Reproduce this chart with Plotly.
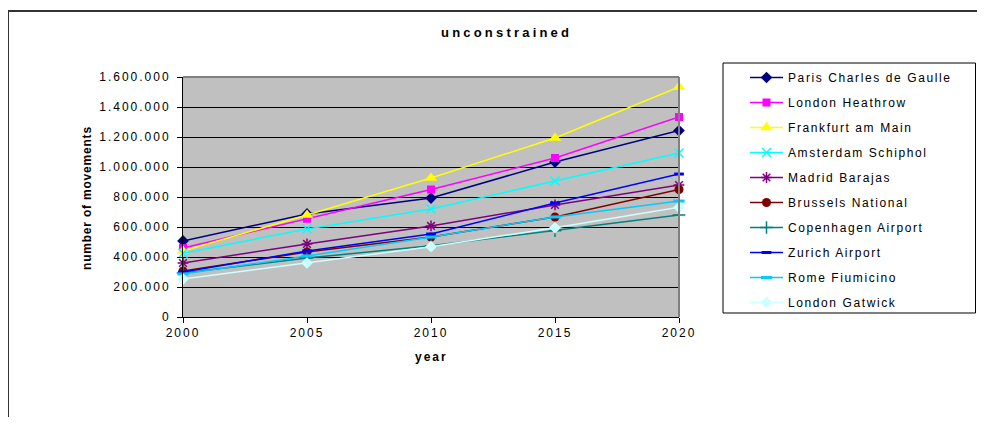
import plotly.graph_objects as go

years = [2000, 2005, 2010, 2015, 2020]
paris = [507000, 687000, 793000, 1033000, 1243000]
heathrow = [460000, 655000, 850000, 1060000, 1333000]
frankfurt = [440000, 680000, 927000, 1193000, 1533000]
amsterdam = [425000, 587000, 720000, 907000, 1093000]
madrid = [360000, 487000, 607000, 747000, 880000]
brussels = [307000, 433000, 533000, 667000, 850000]
copenhagen = [293000, 393000, 475000, 575000, 680000]
zurich = [300000, 440000, 553000, 760000, 953000]
rome = [287000, 407000, 533000, 667000, 773000]
gatwick = [253000, 360000, 469000, 595000, 731000]

series_names = ["Paris Charles de Gaulle", "London Heathrow", "Frankfurt am Main",
                "Amsterdam Schiphol", "Madrid Barajas", "Brussels National",
                "Copenhagen Airport", "Zurich Airport", "Rome Fiumicino", "London Gatwick"]
series_values = [paris, heathrow, frankfurt, amsterdam, madrid, brussels,
                 copenhagen, zurich, rome, gatwick]

y_tickvals = [0, 200000, 400000, 600000, 800000, 1000000, 1200000, 1400000, 1600000]
y_ticklabels = ["0", "200.000", "400.000", "600.000", "800.000", "1.000.000",
                "1.200.000", "1.400.000", "1.600.000"]
x_ticklabels = ["2000", "2005", "2010", "2015", "2020"]

title_text = "unconstrained"
x_title = "year"
y_title = "number of movements"

styles = [
    dict(color="#000080", symbol="diamond", size=9, lw=0),
    dict(color="#FF00FF", symbol="square", size=8, lw=0),
    dict(color="#FFFF00", symbol="triangle-up", size=11, lw=0),
    dict(color="#00FFFF", symbol="x-thin-open", size=9, lw=1.5),
    dict(color="#800080", symbol="asterisk-open", size=9, lw=1.5),
    dict(color="#800000", symbol="circle", size=9, lw=0),
    dict(color="#008080", symbol="cross-thin-open", size=9, lw=1.5),
    dict(color="#0000FF", symbol="line-ew-open", size=7, lw=3),
    dict(color="#00CCFF", symbol="line-ew-open", size=8, lw=3),
    dict(color="#CCFFFF", symbol="diamond", size=9, lw=0),
]

FONT = "Liberation Sans, Arial, sans-serif"


def sp(t, ls):
    return '<span style="letter-spacing:%spx">%s</span>' % (ls, t)


fig = go.Figure()
for i, (name, vals, st) in enumerate(zip(series_names, series_values, styles)):
    fig.add_trace(go.Scatter(
        x=years, y=vals, name=sp(name, 1.6), mode="lines+markers",
        legendgroup="g%d" % i,
        line=dict(color=st["color"], width=1.5),
        marker=dict(color=st["color"], symbol=st["symbol"], size=st["size"],
                    line=dict(color=st["color"], width=st["lw"])),
        cliponaxis=False,
    ))

# page offset of the plotly div (body margin)
OFF = 8
FW, FH = 985 - 2 * OFF, 425 - 2 * OFF
# plot area in page pixels
L, R, T, B = 183, 679, 77, 317
W = R - L
H = B - T


def px(x):
    return (x - L) / W


def py(y):
    return (B - y) / H


fig.update_layout(
    width=FW, height=FH, autosize=False,
    margin=dict(l=L - OFF, r=FW - (R - OFF), t=T - OFF, b=FH - (B - OFF), pad=0),
    paper_bgcolor="white", plot_bgcolor="#C0C0C0",
    font=dict(family=FONT, size=12, color="black"),
    showlegend=True,
    legend=dict(x=px(745), y=py(63), xanchor="left", yanchor="top",
                bgcolor="rgba(0,0,0,0)", borderwidth=0, maxheight=400,
                itemwidth=33,
                tracegroupgap=6, font=dict(family=FONT, size=12, color="black")),
    xaxis=dict(range=[2000, 2020], tickvals=years,
               ticktext=[sp(t, 2) for t in x_ticklabels],
               showgrid=False, zeroline=False, showline=True, linecolor="black",
               linewidth=1, ticks="outside", ticklen=5, tickcolor="black",
               tickfont=dict(family=FONT, size=12, color="black")),
    yaxis=dict(range=[0, 1600000], tickvals=y_tickvals,
               ticktext=[sp(t, 2) for t in y_ticklabels],
               showgrid=True, gridcolor="black", gridwidth=1, zeroline=False,
               showline=True, linecolor="black", linewidth=1, ticks="outside",
               ticklen=5, tickcolor="black", ticklabelstandoff=4,
               tickfont=dict(family=FONT, size=12, color="black")),
    annotations=[
        dict(text="<b>" + sp(title_text, 3.2) + "</b>", xref="paper", yref="paper",
             x=px(506), y=py(32), showarrow=False, xanchor="center", yanchor="middle",
             font=dict(family=FONT, size=13, color="black")),
        dict(text="<b>" + sp(x_title, 2) + "</b>", xref="paper", yref="paper",
             x=px(431), y=py(357), showarrow=False, xanchor="center", yanchor="middle",
             font=dict(family=FONT, size=12, color="black")),
        dict(text="<b>" + sp(y_title, 0.8) + "</b>", xref="paper", yref="paper",
             x=px(87), y=py(198), showarrow=False, xanchor="center", yanchor="middle",
             textangle=-90, font=dict(family=FONT, size=12, color="black")),
    ],
    shapes=[
        dict(type="rect", xref="paper", yref="paper", x0=px(8), x1=px(995),
             y0=py(440), y1=py(11), line=dict(color="#333333", width=2),
             fillcolor="rgba(0,0,0,0)", layer="above"),
        dict(type="rect", xref="paper", yref="paper", x0=px(723), x1=px(975.5),
             y0=py(313), y1=py(63), line=dict(color="black", width=1),
             fillcolor="white", layer="below"),
        dict(type="line", xref="paper", yref="paper", x0=0, x1=1, y0=1, y1=1,
             line=dict(color="#808080", width=2), layer="above"),
        dict(type="line", xref="paper", yref="paper", x0=1, x1=1, y0=0, y1=1,
             line=dict(color="#808080", width=2), layer="above"),
    ],
)

fig.write_html("out.html")
